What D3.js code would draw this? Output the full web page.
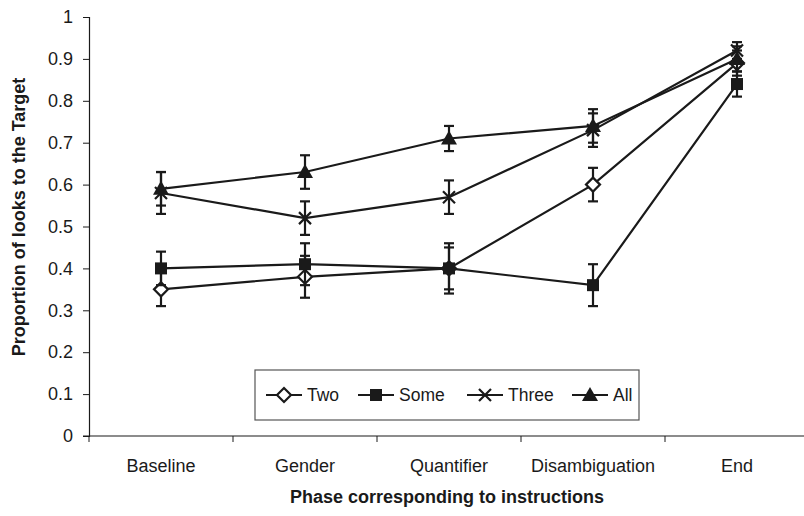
<!DOCTYPE html>
<html>
<head>
<meta charset="utf-8">
<title>Proportion of looks to the Target</title>
<script src="https://cdn.jsdelivr.net/npm/d3@7"></script>
<style>
  body { margin: 0; background: #fff; }
  text { font-family: "Liberation Sans", Arial, sans-serif; fill: #1a1a1a; }
</style>
</head>
<body>
<div id="chart"></div>
<script>
(function (d3) {
  'use strict';

  var phases = ['Baseline', 'Gender', 'Quantifier', 'Disambiguation', 'End'];
  var seriesNames = ['Two', 'Some', 'Three', 'All'];

  var twoVals = [0.35, 0.38, 0.40, 0.60, 0.89];
  var twoErr = [0.04, 0.05, 0.06, 0.04, 0.03];
  var someVals = [0.40, 0.41, 0.40, 0.36, 0.84];
  var someErr = [0.04, 0.05, 0.05, 0.05, 0.03];
  var threeVals = [0.58, 0.52, 0.57, 0.73, 0.92];
  var threeErr = [0.05, 0.04, 0.04, 0.04, 0.02];
  var allVals = [0.59, 0.63, 0.71, 0.74, 0.90];
  var allErr = [0.04, 0.04, 0.03, 0.04, 0.03];

  var yTicks = [0, 0.1, 0.2, 0.3, 0.4, 0.5, 0.6, 0.7, 0.8, 0.9, 1];

  var width = 804, height = 516;
  var margin = { left: 89, top: 17, right: -5, bottom: 80 };
  var ink = '#1a1a1a';

  var svg = d3.select('#chart').append('svg')
    .attr('width', width)
    .attr('height', height);

  var x = d3.scaleBand()
    .domain(phases)
    .range([margin.left, width - margin.right]);

  var y = d3.scaleLinear()
    .domain([0, 1])
    .range([height - margin.bottom, margin.top]);

  // y axis
  var yAxis = svg.append('g')
    .attr('transform', 'translate(' + margin.left + ',0)')
    .call(d3.axisLeft(y).tickValues(yTicks).tickSize(6).tickPadding(10)
      .tickFormat(function (d) { return d3.format('')(+d.toFixed(1)); }));
  yAxis.select('.domain').attr('stroke', ink).attr('stroke-width', 1.2);
  yAxis.selectAll('.tick line').attr('stroke', ink);
  yAxis.selectAll('.tick text').style('font-size', '18px').attr('fill', ink);

  // x axis with ticks at band boundaries
  var xAxisG = svg.append('g')
    .attr('transform', 'translate(0,' + y(0) + ')');
  xAxisG.append('line')
    .attr('x1', margin.left - 6).attr('x2', width)
    .attr('stroke', ink).attr('stroke-width', 1.2);
  xAxisG.selectAll('.bt')
    .data(phases)
    .enter().append('line')
    .attr('x1', function (d) { return x(d); })
    .attr('x2', function (d) { return x(d); })
    .attr('y1', 0).attr('y2', 6)
    .attr('stroke', ink);
  xAxisG.selectAll('.lbl')
    .data(phases)
    .enter().append('text')
    .attr('x', function (d) { return x(d) + x.bandwidth() / 2; })
    .attr('y', 36)
    .attr('text-anchor', 'middle')
    .style('font-size', '18px')
    .text(function (d) { return d; });

  // axis titles
  svg.append('text')
    .attr('x', x.range()[0] + (x.range()[1] - x.range()[0]) / 2 - 2)
    .attr('y', 503)
    .attr('text-anchor', 'middle')
    .style('font-size', '18px')
    .style('font-weight', 'bold')
    .text('Phase corresponding to instructions');

  svg.append('text')
    .attr('transform', 'translate(25,217) rotate(-90)')
    .attr('text-anchor', 'middle')
    .style('font-size', '18px')
    .style('font-weight', 'bold')
    .text('Proportion of looks to the Target');

  var series = [
    { name: 'Two', vals: twoVals, err: twoErr, shape: 'diamond' },
    { name: 'Some', vals: someVals, err: someErr, shape: 'square' },
    { name: 'Three', vals: threeVals, err: threeErr, shape: 'cross' },
    { name: 'All', vals: allVals, err: allErr, shape: 'triangle' }
  ];

  function cx(i) { return x(phases[i]) + x.bandwidth() / 2; }

  function drawMarker(g, shape, px, py) {
    if (shape === 'diamond') {
      g.append('path')
        .attr('d', 'M' + px + ',' + (py - 7) + 'L' + (px + 7) + ',' + py +
          'L' + px + ',' + (py + 7) + 'L' + (px - 7) + ',' + py + 'Z')
        .attr('fill', '#fff').attr('stroke', ink).attr('stroke-width', 2.2);
    } else if (shape === 'square') {
      g.append('rect')
        .attr('x', px - 6).attr('y', py - 6)
        .attr('width', 12).attr('height', 12)
        .attr('fill', ink);
    } else if (shape === 'cross') {
      g.append('path')
        .attr('d', 'M' + (px - 6) + ',' + (py - 6) + 'L' + (px + 6) + ',' + (py + 6) +
          'M' + (px + 6) + ',' + (py - 6) + 'L' + (px - 6) + ',' + (py + 6))
        .attr('stroke', ink).attr('stroke-width', 2.2).attr('fill', 'none');
    } else {
      g.append('path')
        .attr('d', 'M' + px + ',' + (py - 8) + 'L' + (px + 8) + ',' + (py + 6) +
          'L' + (px - 8) + ',' + (py + 6) + 'Z')
        .attr('fill', ink);
    }
  }

  var line = d3.line()
    .x(function (d, i) { return cx(i); })
    .y(function (d) { return y(d); });

  series.forEach(function (s) {
    var g = svg.append('g');
    // error bars
    s.vals.forEach(function (v, i) {
      var px = cx(i);
      var lo = y(v - s.err[i]), hi = y(v + s.err[i]);
      g.append('line').attr('x1', px).attr('x2', px).attr('y1', lo).attr('y2', hi)
        .attr('stroke', ink).attr('stroke-width', 2.2);
      [lo, hi].forEach(function (yy) {
        g.append('line').attr('x1', px - 5).attr('x2', px + 5).attr('y1', yy).attr('y2', yy)
          .attr('stroke', ink).attr('stroke-width', 2.2);
      });
    });
    g.append('path')
      .datum(s.vals)
      .attr('d', line)
      .attr('fill', 'none')
      .attr('stroke', ink)
      .attr('stroke-width', 2.2);
    s.vals.forEach(function (v, i) {
      drawMarker(g, s.shape, cx(i), y(v));
    });
  });

  // legend
  var legend = svg.append('g');
  legend.append('rect')
    .attr('x', 255).attr('y', 370)
    .attr('width', 384).attr('height', 50)
    .attr('fill', '#fff').attr('stroke', '#555').attr('stroke-width', 1.2);

  var legendX = [266, 358, 467, 572];
  series.forEach(function (s, i) {
    var lx = legendX[i], ly = 395;
    legend.append('line')
      .attr('x1', lx).attr('x2', lx + 36).attr('y1', ly).attr('y2', ly)
      .attr('stroke', ink).attr('stroke-width', 2.2);
    drawMarker(legend, s.shape, lx + 18, ly);
    legend.append('text')
      .attr('x', lx + 41).attr('y', ly + 6)
      .style('font-size', '17.5px')
      .text(s.name);
  });
})(window.d3);
</script>
</body>
</html>
